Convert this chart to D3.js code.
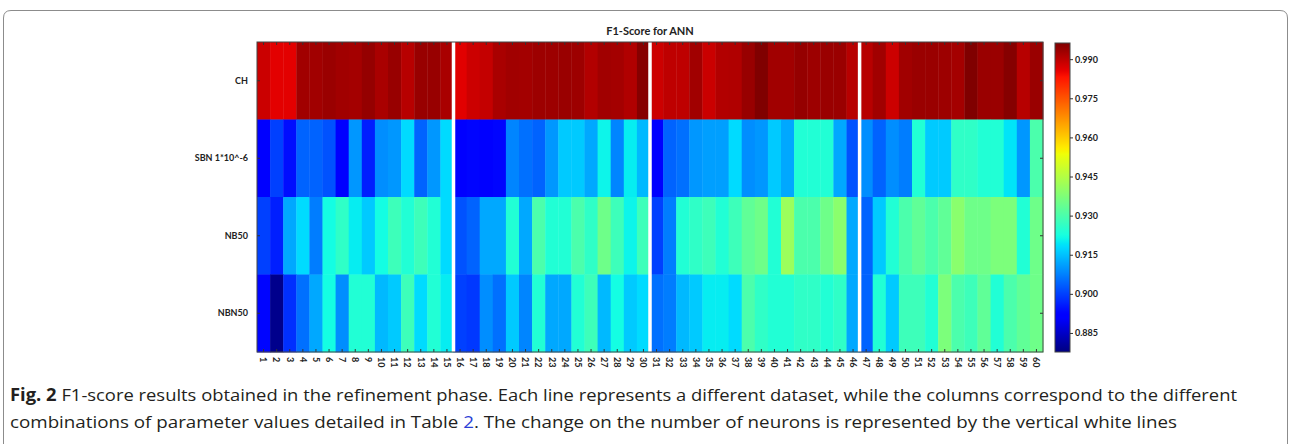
<!DOCTYPE html>
<html>
<head>
<meta charset="utf-8">
<script src="https://cdn.jsdelivr.net/npm/d3@7"></script>
<style>
	body { margin: 0; background: #fff; }
	svg text { font-family: Lato, "Open Sans", sans-serif; }
</style>
</head>
<body>
<div id="heatmap"></div>
<script>
// rows (datasets) and columns (parameter combinations)
var rowNames = ["CH", "SBN 1*10^-6", "NB50", "NBN50"]
var colLabels = ["1","2","3","4","5","6","7","8","9","10","11","12","13","14","15",
	"16","17","18","19","20","21","22","23","24","25","26","27","28","29","30",
	"31","32","33","34","35","36","37","38","39","40","41","42","43","44","45","46",
	"47","48","49","50","51","52","53","54","55","56","57","58","59","60"]

var chValues = [0.9885, 0.986, 0.986, 0.9928, 0.9928, 0.9935, 0.9928, 0.9925, 0.994, 0.992, 0.9937, 0.9905, 0.9937, 0.9937, 0.992,
	0.9862, 0.9884, 0.9892, 0.992, 0.9928, 0.9926, 0.9932, 0.9932, 0.9935, 0.9932, 0.991, 0.9928, 0.9925, 0.9912, 0.9955,
	0.9884, 0.9898, 0.9898, 0.9928, 0.9886, 0.991, 0.9912, 0.9937, 0.9962, 0.9928, 0.9928, 0.994, 0.9932, 0.9935, 0.9935, 0.9905,
	0.9905, 0.9928, 0.9884, 0.9928, 0.9935, 0.9935, 0.9932, 0.9925, 0.9962, 0.9935, 0.9935, 0.9955, 0.9905, 0.9935]
var sbnValues = [0.892, 0.900, 0.894, 0.904, 0.904, 0.902, 0.892, 0.910, 0.896, 0.909, 0.910, 0.918, 0.904, 0.910, 0.918,
	0.891, 0.893, 0.8925, 0.893, 0.908, 0.9055, 0.904, 0.910, 0.916, 0.916, 0.912, 0.921, 0.908, 0.920, 0.914,
	0.892, 0.904, 0.9055, 0.910, 0.911, 0.911, 0.918, 0.909, 0.910, 0.916, 0.912, 0.924, 0.924, 0.924, 0.912, 0.902,
	0.909, 0.904, 0.909, 0.907, 0.924, 0.916, 0.916, 0.926, 0.926, 0.924, 0.924, 0.919, 0.910, 0.930]
var nb50Values = [0.900, 0.896, 0.912, 0.918, 0.907, 0.922, 0.926, 0.920, 0.916, 0.922, 0.928, 0.924, 0.928, 0.924, 0.918,
	0.902, 0.904, 0.912, 0.912, 0.924, 0.912, 0.930, 0.924, 0.924, 0.930, 0.926, 0.935, 0.928, 0.921, 0.928,
	0.900, 0.907, 0.924, 0.926, 0.928, 0.924, 0.928, 0.933, 0.935, 0.924, 0.9415, 0.930, 0.930, 0.935, 0.939, 0.912,
	0.904, 0.916, 0.924, 0.930, 0.933, 0.930, 0.933, 0.939, 0.935, 0.935, 0.937, 0.937, 0.924, 0.935]
var nbn50Values = [0.893, 0.879, 0.898, 0.9055, 0.912, 0.922, 0.909, 0.924, 0.924, 0.914, 0.916, 0.928, 0.918, 0.924, 0.920,
	0.900, 0.899, 0.909, 0.9055, 0.916, 0.908, 0.924, 0.912, 0.912, 0.924, 0.928, 0.914, 0.922, 0.916, 0.918,
	0.9055, 0.907, 0.914, 0.916, 0.920, 0.920, 0.918, 0.930, 0.926, 0.924, 0.924, 0.926, 0.926, 0.924, 0.926, 0.912,
	0.904, 0.924, 0.916, 0.928, 0.928, 0.924, 0.937, 0.930, 0.928, 0.933, 0.924, 0.930, 0.933, 0.935]

// white lines go before these columns (change of neuron count)
var splitBefore = ["16", "31", "47"]
var cbTicks = [0.885, 0.900, 0.915, 0.930, 0.945, 0.960, 0.975, 0.990]
var vMin = 0.8777, vMax = 0.9962

drawHeatmap()

function drawHeatmap() {
	var allValues = [chValues, sbnValues, nb50Values, nbn50Values]
	var cells = []
	for (var r = 0; r < rowNames.length; r++) {
		for (var c = 0; c < colLabels.length; c++) {
			cells.push({ row: rowNames[r], col: colLabels[c], value: allValues[r][c] })
		}
	}

	// matplotlib "jet"
	var jetR = d3.scaleLinear().domain([0, 0.35, 0.66, 0.89, 1]).range([0, 0, 1, 1, 0.5]).clamp(true)
	var jetG = d3.scaleLinear().domain([0, 0.125, 0.375, 0.64, 0.91, 1]).range([0, 0, 1, 1, 0, 0]).clamp(true)
	var jetB = d3.scaleLinear().domain([0, 0.11, 0.34, 0.65, 1]).range([0.5, 1, 1, 0, 0]).clamp(true)
	var norm = d3.scaleLinear().domain([vMin, vMax]).range([0, 1]).clamp(true)
	function color(v) {
		var t = norm(v)
		return d3.rgb(jetR(t) * 255, jetG(t) * 255, jetB(t) * 255).formatHex()
	}

	var svg = d3.select("#heatmap")
		.append("svg")
		.attr("width", 1290)
		.attr("height", 444)

	// figure frame
	svg.append("path")
		.attr("d", "M3.5,444 V18 Q3.5,10.5 11,10.5 H1280 Q1287.5,10.5 1287.5,18 V444")
		.style("fill", "none")
		.style("stroke", "#8c8c8c")
		.style("stroke-width", 1)

	const xScale = d3.scaleBand().domain(colLabels).range([257, 1043])
	const yScale = d3.scaleBand().domain(rowNames).range([42, 352])

	svg.append("text")
		.attr("x", 650)
		.attr("y", 35)
		.style("text-anchor", "middle")
		.style("font-size", "11px")
		.style("font-weight", "bold")
		.style("fill", "#222")
		.text("F1-Score for ANN")

	svg.append("g")
		.selectAll("rect")
		.data(cells)
		.join("rect")
		.attr("x", d => xScale(d.col))
		.attr("y", d => yScale(d.row))
		.attr("width", xScale.bandwidth() + 0.4)
		.attr("height", yScale.bandwidth() + 0.4)
		.style("fill", d => color(d.value))

	// vertical white separators
	svg.append("g")
		.selectAll("line")
		.data(splitBefore)
		.join("line")
		.attr("x1", d => xScale(d))
		.attr("x2", d => xScale(d))
		.attr("y1", 42)
		.attr("y2", 352)
		.style("stroke", "#fff")
		.style("stroke-width", 3.5)

	// axes with inward ticks
	var xb = svg.append("g")
		.attr("transform", "translate(0,352)")
		.call(d3.axisBottom(xScale).tickSize(-3).tickSizeOuter(0))
	xb.select(".domain").remove()
	xb.selectAll("line").style("stroke", "#333")
	xb.selectAll("text")
		.attr("transform", "rotate(90)")
		.attr("x", 5)
		.attr("y", 0)
		.attr("dy", "0.35em")
		.style("text-anchor", "start")
		.style("font-size", "9px")
		.style("font-weight", "bold")
		.style("fill", "#222")
		.style("font-family", "Lato, sans-serif")

	var xt = svg.append("g")
		.attr("transform", "translate(0,42)")
		.call(d3.axisTop(xScale).tickSize(-3).tickSizeOuter(0).tickFormat(""))
	xt.select(".domain").remove()
	xt.selectAll("line").style("stroke", "#333")

	var yl = svg.append("g")
		.attr("transform", "translate(257,0)")
		.call(d3.axisLeft(yScale).tickSize(-3).tickSizeOuter(0).tickPadding(9))
	yl.select(".domain").remove()
	yl.selectAll("line").style("stroke", "#333")
	yl.selectAll("text")
		.style("font-size", "9px")
		.style("font-weight", "bold")
		.style("fill", "#222")
		.style("font-family", "Lato, sans-serif")

	var yr = svg.append("g")
		.attr("transform", "translate(1043,0)")
		.call(d3.axisRight(yScale).tickSize(-3).tickSizeOuter(0).tickFormat(""))
	yr.select(".domain").remove()
	yr.selectAll("line").style("stroke", "#333")

	svg.append("rect")
		.attr("x", 257)
		.attr("y", 42)
		.attr("width", 786)
		.attr("height", 310)
		.style("fill", "none")
		.style("stroke", "#444")
		.style("stroke-width", 1)

	// colour bar
	var defs = svg.append("defs")
	var grad = defs.append("linearGradient")
		.attr("id", "jetgrad")
		.attr("x1", 0).attr("y1", 1).attr("x2", 0).attr("y2", 0)
	var stops = d3.range(0, 1.0001, 0.01)
	grad.selectAll("stop")
		.data(stops)
		.join("stop")
		.attr("offset", d => d)
		.attr("stop-color", d => color(vMin + d * (vMax - vMin)))

	const cbScale = d3.scaleLinear().domain([vMin, vMax]).range([352, 43])
	svg.append("rect")
		.attr("x", 1055)
		.attr("y", 43)
		.attr("width", 15)
		.attr("height", 309)
		.style("fill", "url(#jetgrad)")
		.style("stroke", "#444")
		.style("stroke-width", 1)

	var cb = svg.append("g")
		.attr("transform", "translate(1070,0)")
		.call(d3.axisRight(cbScale).tickValues(cbTicks).tickFormat(d3.format(".3f")).tickSize(3).tickPadding(2))
	cb.select(".domain").remove()
	cb.selectAll("line").style("stroke", "#333")
	cb.selectAll("text")
		.style("font-size", "9px")
		.style("font-weight", "bold")
		.style("fill", "#222")
		.style("font-family", "Lato, sans-serif")

	// caption
	var cap1 = svg.append("text")
		.attr("x", 10)
		.attr("y", 401)
		.attr("textLength", 1227)
		.attr("lengthAdjust", "spacingAndGlyphs")
		.style("font-size", "17px")
		.style("fill", "#231f20")
		.style("font-family", "'Open Sans', sans-serif")
	cap1.append("tspan").style("font-weight", "bold").text("Fig. 2")
	cap1.append("tspan").text(" F1-score results obtained in the refinement phase. Each line represents a different dataset, while the columns correspond to the different")

	var cap2 = svg.append("text")
		.attr("x", 10)
		.attr("y", 428)
		.attr("textLength", 1167)
		.attr("lengthAdjust", "spacingAndGlyphs")
		.style("font-size", "17px")
		.style("fill", "#231f20")
		.style("font-family", "'Open Sans', sans-serif")
	cap2.append("tspan").text("combinations of parameter values detailed in Table ")
	cap2.append("tspan").style("fill", "#2b3fd6").text("2")
	cap2.append("tspan").text(". The change on the number of neurons is represented by the vertical white lines")
}
</script>
</body>
</html>
